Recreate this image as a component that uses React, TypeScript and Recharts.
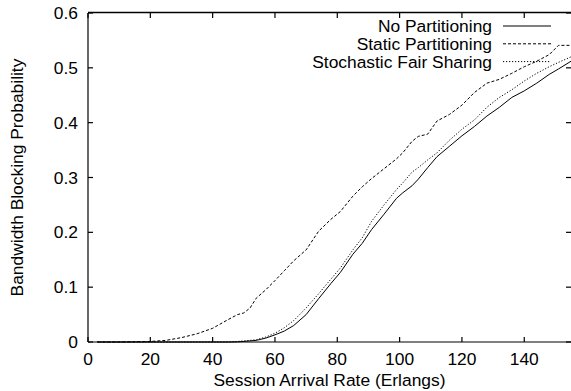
import React from "react";
import { LineChart, Line, XAxis, YAxis } from "recharts";

// Session arrival rate (Erlangs)
const arrivalRate = [
  3, 10, 20, 25, 30, 35, 40, 45, 48, 50, 52, 54, 57, 60, 63, 66, 70, 74, 78, 81,
  85, 88, 91, 95, 99, 101, 104, 106, 109, 112, 116, 120, 124, 128, 132, 136, 140,
  144, 148, 151, 155,
];

// Bandwidth blocking probability per scheme
const noPartitioning = [
  0, 0, 0, 0, 0, 0, 0, 0, 0.0003, 0.001, 0.002, 0.003, 0.007, 0.013, 0.02, 0.03,
  0.05, 0.079, 0.107, 0.127, 0.16, 0.18, 0.205, 0.233, 0.262, 0.272, 0.285, 0.297,
  0.318, 0.338, 0.357, 0.376, 0.393, 0.412, 0.428, 0.446, 0.458, 0.472, 0.488,
  0.498, 0.512,
];
const staticPartitioning = [
  0, 0, 0.001, 0.003, 0.008, 0.015, 0.025, 0.041, 0.05, 0.053, 0.062, 0.08, 0.095,
  0.112, 0.13, 0.148, 0.168, 0.202, 0.224, 0.238, 0.266, 0.283, 0.298, 0.316,
  0.334, 0.345, 0.366, 0.375, 0.379, 0.403, 0.415, 0.432, 0.455, 0.472, 0.479,
  0.49, 0.502, 0.512, 0.524, 0.541, 0.541,
];
const stochasticFairSharing = [
  0, 0, 0, 0, 0, 0, 0, 0, 0.001, 0.002, 0.003, 0.004, 0.009, 0.016, 0.026, 0.039,
  0.062, 0.088, 0.115, 0.135, 0.168, 0.19, 0.22, 0.25, 0.278, 0.29, 0.31, 0.318,
  0.332, 0.345, 0.368, 0.388, 0.405, 0.428, 0.446, 0.46, 0.476, 0.49, 0.502, 0.51,
  0.52,
];

const xTicks = [0, 20, 40, 60, 80, 100, 120, 140];
const yTicks = [0, 0.1, 0.2, 0.3, 0.4, 0.5, 0.6];

const seriesInfo = [
  { key: "none", name: "No Partitioning", dash: undefined as string | undefined },
  { key: "static", name: "Static Partitioning", dash: "3 2" },
  { key: "sfs", name: "Stochastic Fair Sharing", dash: "1.2 1.8" },
];

const rows = arrivalRate.map((x, i) => ({
  x,
  none: noPartitioning[i],
  static: staticPartitioning[i],
  sfs: stochasticFairSharing[i],
}));

const FONT = "'Liberation Sans', Arial, Helvetica, sans-serif";
const FS = 17.4;
const TICK = 5;

// plot frame
const MARGIN = { top: 13, right: 0, left: 28, bottom: 0 };
const CHART_W = 571;
const CHART_H = 391;
const Y_AXIS_W = 60;
const X_AXIS_H = 49;
const PLOT_TOP = MARGIN.top;
const PLOT_RIGHT = CHART_W - MARGIN.right;

// bottom ticks, with the mirrored tick on the top border
const BottomTick = (p: any) => (
  <g>
    <line x1={p.x} x2={p.x} y1={p.y} y2={p.y - TICK} stroke="#000" strokeWidth={1.2} />
    <line x1={p.x} x2={p.x} y1={PLOT_TOP} y2={PLOT_TOP + TICK} stroke="#000" strokeWidth={1.2} />
    <text x={p.x} y={p.y + 23} textAnchor="middle" fontFamily={FONT} fontSize={FS} fill="#000">
      {p.payload.value}
    </text>
  </g>
);

// left ticks, with the mirrored tick on the right border
const LeftTick = (p: any) => (
  <g>
    <line x1={p.x} x2={p.x + TICK} y1={p.y} y2={p.y} stroke="#000" strokeWidth={1.2} />
    <line x1={PLOT_RIGHT} x2={PLOT_RIGHT - TICK} y1={p.y} y2={p.y} stroke="#000" strokeWidth={1.2} />
    <text x={p.x - 10} y={p.y + 6} textAnchor="end" fontFamily={FONT} fontSize={FS} fill="#000">
      {String(p.payload.value)}
    </text>
  </g>
);

// axis title, top border and the key box in the upper right corner
const BottomLabel = (props: any) => {
  const vb = props.viewBox || { x: 88, width: 483 };
  return (
    <g>
      <line
        x1={vb.x}
        x2={vb.x + vb.width}
        y1={PLOT_TOP - 0.5}
        y2={PLOT_TOP - 0.5}
        stroke="#000"
        strokeWidth={1.5}
      />
      <text x={vb.x + vb.width / 2} y={386} textAnchor="middle" fontFamily={FONT} fontSize={FS} fill="#000">
        Session Arrival Rate (Erlangs)
      </text>
      {seriesInfo.map((s, i) => {
        const cy = 26 + i * 17.8;
        return (
          <g key={s.key}>
            <text x={492} y={cy + 6.3} textAnchor="end" fontFamily={FONT} fontSize={FS} fill="#000">
              {s.name}
            </text>
            <line x1={503} x2={551} y1={cy} y2={cy} stroke="#000" strokeWidth={1} strokeDasharray={s.dash} />
          </g>
        );
      })}
    </g>
  );
};

export default function App() {
  return (
    <div style={{ position: "absolute", left: 0, top: 0, background: "#fff" }}>
      <LineChart width={CHART_W} height={CHART_H} data={rows} margin={MARGIN}>
        <XAxis
          dataKey="x"
          type="number"
          domain={[0, 155]}
          ticks={xTicks}
          interval={0}
          height={X_AXIS_H}
          tickSize={0}
          tickMargin={0}
          tickLine={false}
          axisLine={{ stroke: "#000", strokeWidth: 1.2 }}
          tick={BottomTick}
          label={{ content: (props: any) => <BottomLabel {...props} /> }}
        />
        <YAxis
          type="number"
          domain={[0, 0.6]}
          ticks={yTicks}
          interval={0}
          width={Y_AXIS_W}
          tickSize={0}
          tickMargin={0}
          tickLine={false}
          axisLine={{ stroke: "#000", strokeWidth: 1.2 }}
          tick={LeftTick}
          label={{
            content: () => (
              <text
                x={22.5}
                y={177.5}
                transform="rotate(-90 22.5 177.5)"
                textAnchor="middle"
                fontFamily={FONT}
                fontSize={FS}
                fill="#000"
              >
                Bandwidth Blocking Probability
              </text>
            ),
          }}
        />
        {seriesInfo.map((s) => (
          <Line
            key={s.key}
            type="linear"
            dataKey={s.key}
            name={s.name}
            stroke="#000"
            strokeWidth={1}
            strokeDasharray={s.dash}
            dot={false}
            activeDot={false}
            isAnimationActive={false}
          />
        ))}
      </LineChart>
    </div>
  );
}
